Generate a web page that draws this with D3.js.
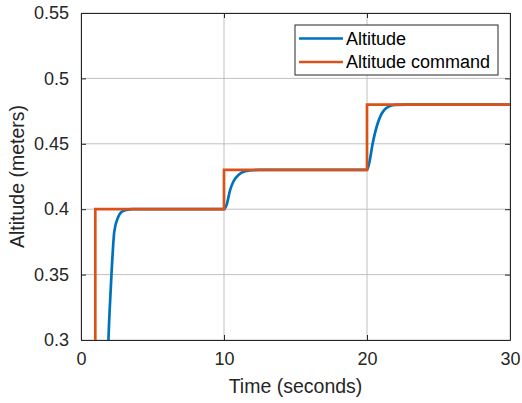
<!DOCTYPE html>
<html>
<head>
<meta charset="utf-8">
<script src="https://cdn.jsdelivr.net/npm/d3@7"></script>
<style>
  body { margin: 0; background: #fff; }
  svg { font-family: "Liberation Sans", Arial, sans-serif; }
</style>
</head>
<body>
<div id="chart"></div>
<script>
// command steps
var cmdTime = [0, 1, 10, 20, 30];
var cmdValue = [0.0, 0.4, 0.43, 0.48, 0.48];

var altTime = [1.78, 1.88, 1.92, 2.0, 2.13, 2.33, 2.6, 2.84, 3.2, 3.6, 10.0, 10.2, 10.43, 10.65, 10.9, 11.2, 11.8, 12.5, 20.0, 20.15, 20.4, 20.75, 21.0, 21.2, 21.6, 22.0, 22.8, 30];
var altValue = [0.25, 0.285, 0.30, 0.322, 0.35, 0.383, 0.394, 0.398, 0.3995, 0.4, 0.4, 0.404, 0.4147, 0.421, 0.4249, 0.4278, 0.4297, 0.43, 0.43, 0.435, 0.4504, 0.4657, 0.4725, 0.4758, 0.4788, 0.4798, 0.48, 0.48];

var xTicks = [0, 10, 20, 30];
var yTicks = [0.3, 0.35, 0.4, 0.45, 0.5, 0.55];
var seriesNames = ["Altitude", "Altitude command"];
var colors = ["#0072BD", "#D95319"];

var W = 522, H = 403;
var m = { l: 81, r: 12, t: 13, b: 63 };
var w = W - m.l - m.r, h = H - m.t - m.b;

var svg = d3.select("#chart").append("svg").attr("width", W).attr("height", H);
var g = svg.append("g").attr("transform", "translate(" + m.l + "," + m.t + ")");

var x = d3.scaleLinear().domain([0, 30]).range([0, w]);
var y = d3.scaleLinear().domain([0.3, 0.55]).range([h, 0]);

// grid
g.selectAll(".gx").data(xTicks).enter().append("line")
  .attr("x1", d => x(d)).attr("x2", d => x(d)).attr("y1", 0).attr("y2", h)
  .attr("stroke", "#c0c0c0").attr("stroke-width", 1);
g.selectAll(".gy").data(yTicks).enter().append("line")
  .attr("x1", 0).attr("x2", w).attr("y1", d => y(d)).attr("y2", d => y(d))
  .attr("stroke", "#c0c0c0").attr("stroke-width", 1);

g.append("clipPath").attr("id", "clip").append("rect").attr("width", w).attr("height", h);

var plot = g.append("g").attr("clip-path", "url(#clip)");

var cmdData = cmdTime.map((t, i) => [t, cmdValue[i]]);
var altData = altTime.map((t, i) => [t, altValue[i]]);

plot.append("path").datum(altData)
  .attr("fill", "none").attr("stroke", colors[0]).attr("stroke-width", 2.7)
  .attr("d", d3.line().x(d => x(d[0])).y(d => y(d[1])).curve(d3.curveMonotoneX));

plot.append("path").datum(cmdData)
  .attr("fill", "none").attr("stroke", colors[1]).attr("stroke-width", 2.7)
  .attr("d", d3.line().x(d => x(d[0])).y(d => y(d[1])).curve(d3.curveStepAfter));

// axes
var xAxis = d3.axisBottom(x).tickValues(xTicks).tickSizeInner(-5).tickSizeOuter(0).tickPadding(12);
var yAxis = d3.axisLeft(y).tickValues(yTicks).tickSizeInner(-5).tickSizeOuter(0).tickPadding(12)
  .tickFormat(d3.format("~g"));

var gx = g.append("g").attr("transform", "translate(0," + h + ")").call(xAxis);
var gy = g.append("g").call(yAxis);
g.append("g").call(d3.axisTop(x).tickValues(xTicks).tickSizeInner(-5).tickSizeOuter(0).tickFormat(""));
g.append("g").attr("transform", "translate(" + w + ",0)")
  .call(d3.axisRight(y).tickValues(yTicks).tickSizeInner(-5).tickSizeOuter(0).tickFormat(""));

g.selectAll(".domain").attr("stroke", "#262626");
g.selectAll(".tick line").attr("stroke", "#262626");
g.selectAll(".tick text").attr("font-size", 18).attr("fill", "#262626")
  .attr("font-family", "Liberation Sans, Arial, sans-serif");
gx.selectAll(".tick text").attr("dy", "0.71em");

// axis labels
svg.append("text").attr("x", m.l + w / 2).attr("y", 393)
  .attr("text-anchor", "middle").attr("font-size", 19.5).attr("fill", "#262626")
  .text("Time (seconds)");
svg.append("text").attr("transform", "translate(24," + (m.t + h / 2) + ") rotate(-90)")
  .attr("text-anchor", "middle").attr("font-size", 19.5).attr("fill", "#262626")
  .text("Altitude (meters)");

// legend
var lg = svg.append("g").attr("transform", "translate(295,25)");
lg.append("rect").attr("width", 203).attr("height", 50)
  .attr("fill", "#fff").attr("stroke", "#262626").attr("stroke-width", 1);
seriesNames.forEach(function (name, i) {
  var yy = 13.5 + i * 23.5;
  lg.append("line").attr("x1", 4).attr("x2", 48).attr("y1", yy).attr("y2", yy)
    .attr("stroke", colors[i]).attr("stroke-width", 2.7);
  lg.append("text").attr("x", 51).attr("y", yy).attr("dy", "0.35em")
    .attr("font-size", 18).attr("fill", "#000").text(name);
});
</script>
</body>
</html>
